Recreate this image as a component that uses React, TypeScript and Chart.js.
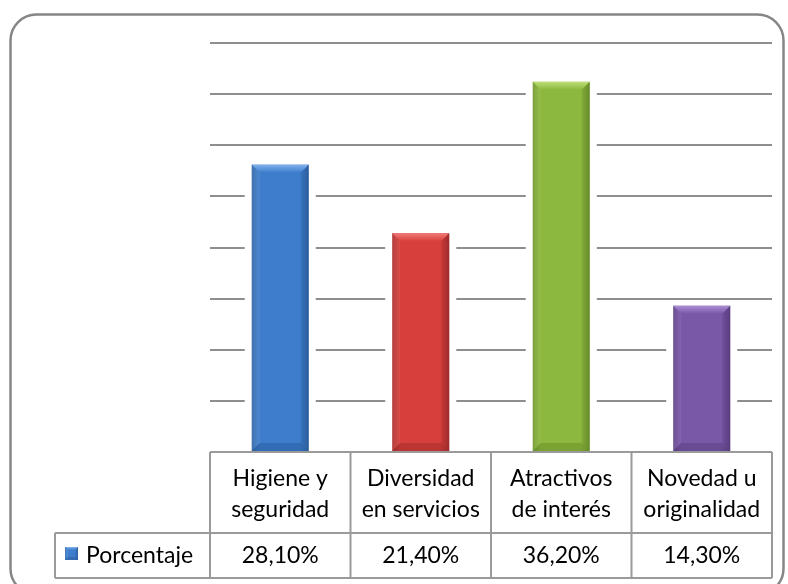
import React, { useEffect, useRef } from "react";
import { Chart, registerables } from "chart.js";

Chart.register(...registerables);

const categories: string[][] = [
  ["Higiene y", "seguridad"],
  ["Diversidad", "en servicios"],
  ["Atractivos", "de interés"],
  ["Novedad u", "originalidad"],
];
const values: number[] = [28.1, 21.4, 36.2, 14.3];
const seriesName = "Porcentaje";
const yMin = 0;
const yMax = 40;
const yStep = 5;

const barColors = [
  { base: "#3d7dcc", light: "#80b2ec", dark: "#2a5c9c" },
  { base: "#d63f3c", light: "#f27c78", dark: "#9e2c2a" },
  { base: "#8cb83f", light: "#bcdf77", dark: "#688d2a" },
  { base: "#7a58a8", light: "#ab8dd4", dark: "#583d7e" },
];

const FONT = "Lato, 'Open Sans', sans-serif";

function fmt(v: number) {
  return v.toFixed(2).replace(".", ",") + "%";
}

function drawBevelRect(ctx: CanvasRenderingContext2D, l: number, t: number, r: number, b: number, c: { base: string; light: string; dark: string }, bev: number) {
  ctx.save();
  const g = ctx.createLinearGradient(l, 0, r, 0);
  g.addColorStop(0, c.dark);
  g.addColorStop(0.15, c.base);
  g.addColorStop(0.85, c.base);
  g.addColorStop(1, c.dark);
  ctx.fillStyle = g;
  ctx.fillRect(l, t, r - l, b - t);
  // top bevel
  const tg = ctx.createLinearGradient(0, t, 0, t + bev);
  tg.addColorStop(0, c.light);
  tg.addColorStop(1, c.base);
  ctx.beginPath();
  ctx.moveTo(l, t);
  ctx.lineTo(r, t);
  ctx.lineTo(r - bev, t + bev);
  ctx.lineTo(l + bev, t + bev);
  ctx.closePath();
  ctx.fillStyle = tg;
  ctx.fill();
  // left bevel
  ctx.globalAlpha = 0.25;
  ctx.beginPath();
  ctx.moveTo(l, t);
  ctx.lineTo(l + bev, t + bev);
  ctx.lineTo(l + bev, b - bev);
  ctx.lineTo(l, b);
  ctx.closePath();
  ctx.fillStyle = c.light;
  ctx.fill();
  // right bevel
  ctx.beginPath();
  ctx.moveTo(r, t);
  ctx.lineTo(r - bev, t + bev);
  ctx.lineTo(r - bev, b - bev);
  ctx.lineTo(r, b);
  ctx.closePath();
  ctx.fillStyle = c.dark;
  ctx.fill();
  // bottom bevel
  ctx.globalAlpha = 0.5;
  ctx.beginPath();
  ctx.moveTo(l, b);
  ctx.lineTo(l + bev, b - bev);
  ctx.lineTo(r - bev, b - bev);
  ctx.lineTo(r, b);
  ctx.closePath();
  ctx.fillStyle = c.dark;
  ctx.fill();
  ctx.restore();
}

const decorPlugin = {
  id: "decor",
  beforeDatasetsDraw(chart: any) {
    const ctx = chart.ctx as CanvasRenderingContext2D;
    const meta = chart.getDatasetMeta(0);
    ctx.save();
    meta.data.forEach((bar: any) => {
      const w = bar.width;
      ctx.fillStyle = "#ffffff";
      ctx.fillRect(bar.x - w / 2 - 7, bar.y + 4, w + 14, bar.base - bar.y - 4);
    });
    ctx.restore();
  },
  afterDatasetsDraw(chart: any) {
    const ctx = chart.ctx as CanvasRenderingContext2D;
    const meta = chart.getDatasetMeta(0);
    meta.data.forEach((bar: any, i: number) => {
      const w = bar.width;
      drawBevelRect(ctx, bar.x - w / 2, bar.y, bar.x + w / 2, bar.base, barColors[i % barColors.length], 8);
    });
  },
  afterDraw(chart: any) {
    const ctx = chart.ctx as CanvasRenderingContext2D;
    const area = chart.chartArea;
    const n = categories.length;
    const colW = (area.right - area.left) / n;
    const top = area.bottom;
    const mid = top + 81;
    const bot = top + 126;
    const legendLeft = 55;
    ctx.save();
    ctx.strokeStyle = "#9a9a9a";
    ctx.lineWidth = 2;
    ctx.beginPath();
    ctx.moveTo(area.left, top);
    ctx.lineTo(area.right, top);
    ctx.moveTo(legendLeft, mid);
    ctx.lineTo(area.right, mid);
    ctx.moveTo(legendLeft, bot);
    ctx.lineTo(area.right, bot);
    for (let i = 0; i <= n; i++) {
      const x = area.left + i * colW;
      ctx.moveTo(x, top);
      ctx.lineTo(x, bot);
    }
    ctx.moveTo(legendLeft, mid);
    ctx.lineTo(legendLeft, bot);
    ctx.stroke();

    // legend key
    drawBevelRect(ctx, 65, 547, 78, 560, barColors[0], 3);

    ctx.fillStyle = "#000000";
    ctx.font = `23px ${FONT}`;
    ctx.textAlign = "center";
    ctx.textBaseline = "middle";
    const xs = chart.scales.x;
    categories.forEach((lines, i) => {
      const cx = xs.getPixelForValue(i);
      lines.forEach((ln, j) => {
        ctx.fillText(ln, cx, top + 27 + j * 31);
      });
      ctx.fillText(fmt(values[i]), cx, mid + 23);
    });
    ctx.textAlign = "left";
    ctx.fillText(seriesName, 86, mid + 23);

    // outer rounded frame
    ctx.strokeStyle = "#868686";
    ctx.lineWidth = 2.5;
    ctx.beginPath();
    (ctx as any).roundRect(10.5, 14.5, 773, 580, 26);
    ctx.stroke();
    ctx.restore();
  },
};

export default function App() {
  const ref = useRef<HTMLCanvasElement | null>(null);
  useEffect(() => {
    if (!ref.current) return;
    const chart = new Chart(ref.current, {
      type: "bar",
      data: {
        labels: categories.map((c) => c.join(" ")),
        datasets: [
          {
            label: seriesName,
            data: values,
            backgroundColor: "rgba(0,0,0,0)",
            borderWidth: 0,
            barPercentage: 0.406,
            categoryPercentage: 1,
          },
        ],
      },
      options: {
        responsive: false,
        animation: false,
        devicePixelRatio: 1,
        layout: { padding: { left: 210, right: 16, top: 43, bottom: 132 } },
        plugins: { legend: { display: false }, tooltip: { enabled: false } },
        scales: {
          x: { display: false },
          y: {
            min: yMin,
            max: yMax,
            ticks: { display: false, stepSize: yStep },
            border: { display: false },
            grid: { color: "#8e8e8e", lineWidth: 2, drawTicks: false },
          },
        },
      },
      plugins: [decorPlugin],
    });
    return () => chart.destroy();
  }, []);
  return (
    <div style={{ position: "fixed", left: 0, top: 0, width: 788, height: 584, background: "#fff" }}>
      <canvas ref={ref} width={788} height={584} style={{ width: 788, height: 584, display: "block" }} />
    </div>
  );
}
